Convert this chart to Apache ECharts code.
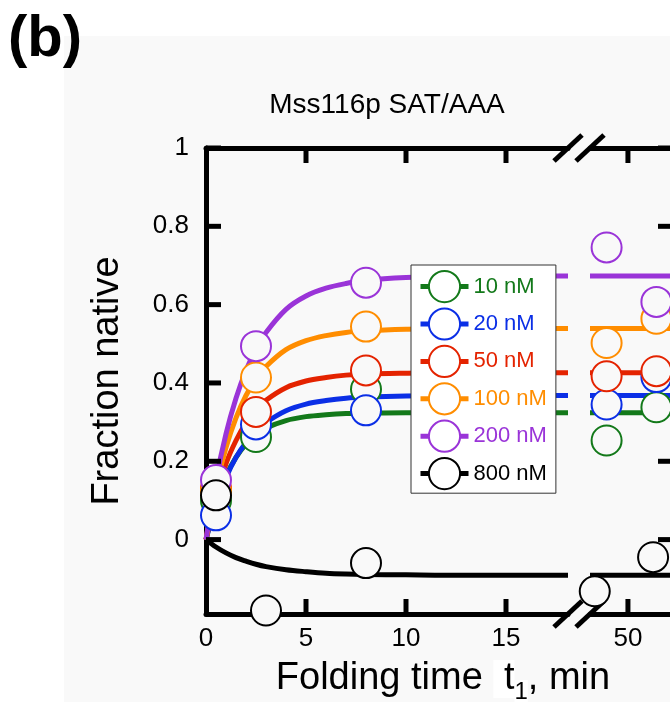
<!DOCTYPE html>
<html>
<head>
<meta charset="utf-8">
<script src="https://cdn.jsdelivr.net/npm/echarts@6/dist/echarts.min.js"></script>
<style>
html, body { margin: 0; padding: 0; background: #fff; }
/* light grey figure panel behind the plot */
#chart {
  width: 670px; height: 702px;
  background: linear-gradient(#f9f9f9, #f9f9f9) 64px 36px / 606px 666px no-repeat, #fff;
}
</style>
</head>
<body>
<div id="chart"></div>
<script>
// Mss116p SAT/AAA folding kinetics: fraction native vs folding time t1

const concentrations = ['10 nM', '20 nM', '50 nM', '100 nM', '200 nM', '800 nM'];
const seriesColors = ['#13791a', '#0b2fe6', '#e42300', '#ff8d00', '#9a34d8', '#000000'];

// measured time points (min); the 800 nM set was sampled at its own times
const timesEarly = [0.5, 2.5, 8];
const timesLate = [45.5, 56];
const times800Early = [0.5, 3, 8];
const times800Late = [43, 55.3];

// measured fraction native
const native10Early = [0.100, 0.262, 0.384];
const native10Late = [0.253, 0.338];
const native20Early = [0.062, 0.294, 0.330];
const native20Late = [0.345, 0.415];
const native50Early = [0.130, 0.326, 0.432];
const native50Late = [0.417, 0.430];
const native100Early = [0.125, 0.414, 0.544];
const native100Late = [0.502, 0.564];
const native200Early = [0.152, 0.494, 0.656];
const native200Late = [0.746, 0.607];
const native800Early = [0.113, -0.181, -0.060];
const native800Late = [-0.132, -0.045];

// fitted kinetic curves, sampled along the early time range
const fitTimes = [0, 0.5, 1, 1.5, 2, 2.5, 3, 4, 5, 6, 7, 8, 10, 12, 14, 18.1];
const fit10 = [0, 0.096, 0.163, 0.210, 0.244, 0.268, 0.285, 0.304, 0.314, 0.319, 0.322, 0.323, 0.324, 0.324, 0.324, 0.324];
const fit20 = [0, 0.090, 0.158, 0.210, 0.248, 0.277, 0.299, 0.329, 0.346, 0.355, 0.361, 0.364, 0.367, 0.368, 0.368, 0.368];
const fit50 = [0, 0.111, 0.194, 0.253, 0.298, 0.331, 0.356, 0.388, 0.405, 0.414, 0.420, 0.423, 0.425, 0.426, 0.426, 0.426];
const fit100 = [0, 0.134, 0.235, 0.311, 0.368, 0.410, 0.442, 0.485, 0.508, 0.521, 0.529, 0.533, 0.537, 0.539, 0.539, 0.539];
const fit200 = [0, 0.152, 0.270, 0.361, 0.432, 0.487, 0.529, 0.588, 0.622, 0.642, 0.654, 0.662, 0.669, 0.672, 0.673, 0.673];
const fit800 = [0, -0.019, -0.034, -0.046, -0.055, -0.063, -0.069, -0.077, -0.082, -0.086, -0.088, -0.089, -0.090, -0.091, -0.091, -0.091];
// plateau of each fit, carried across the late (broken) time range
const fitPlateau = [0.324, 0.368, 0.426, 0.539, 0.673, -0.091];

// axis ranges and tick values
const yMin = -0.19, yMax = 1;
const yTicks = [0, 0.2, 0.4, 0.6, 0.8, 1];
const xEarlyMin = 0, xEarlyMax = 18.1;
const xEarlyTicks = [0, 5, 10, 15];
const xLateMin = 42, xLateMax = 59.5;
const xLateTicks = [50];

const earlyNative = [native10Early, native20Early, native50Early, native100Early, native200Early, native800Early];
const lateNative = [native10Late, native20Late, native50Late, native100Late, native200Late, native800Late];
const fits = [fit10, fit20, fit50, fit100, fit200, fit800];

// layout
const FONT = "'Liberation Sans', Arial, Helvetica, sans-serif";
const g0Left = 206, g0Width = 362, g1Left = 590, g1Width = 83, gTop = 148, gHeight = 466;
const PANEL_BG = '#f9f9f9';
const TICK_LEN = 15;

const axisLineStyle = () => ({ show: true, onZero: false, lineStyle: { color: '#000', width: 5 } });
const labelStyle = (extra) => Object.assign({ show: true, fontSize: 26, color: '#000', fontFamily: FONT }, extra);

const series = [];
// fitted curves (first, so the legend takes its line + circle icon from them)
concentrations.forEach((name, i) => {
  series.push({
    type: 'line', name: name, xAxisIndex: 0, yAxisIndex: 0,
    data: fitTimes.map((t, j) => [t, fits[i][j]]),
    smooth: 0.35,
    symbol: 'emptyCircle', showSymbol: false, silent: true,
    itemStyle: { color: seriesColors[i] },
    lineStyle: { color: seriesColors[i], width: 5 },
    z: 2
  });
});
concentrations.forEach((name, i) => {
  series.push({
    type: 'line', name: name, xAxisIndex: 2, yAxisIndex: 1,
    data: [[xLateMin, fitPlateau[i]], [xLateMax, fitPlateau[i]]],
    symbol: 'none', silent: true,
    itemStyle: { color: seriesColors[i] },
    lineStyle: { color: seriesColors[i], width: 5 },
    z: 2
  });
});
// measured points, drawn above every curve
concentrations.forEach((name, i) => {
  const te = i === 5 ? times800Early : timesEarly;
  const tl = i === 5 ? times800Late : timesLate;
  const pointStyle = { color: PANEL_BG, borderColor: seriesColors[i], borderWidth: 2, opacity: 1 };
  series.push({
    type: 'scatter', name: name, xAxisIndex: 0, yAxisIndex: 0,
    data: te.map((t, j) => [t, earlyNative[i][j]]),
    symbol: 'circle', symbolSize: 30, clip: false, silent: true,
    itemStyle: pointStyle, z: 5
  });
  series.push({
    type: 'scatter', name: name, xAxisIndex: 2, yAxisIndex: 1,
    data: tl.map((t, j) => [t, lateNative[i][j]]),
    symbol: 'circle', symbolSize: 30, clip: false, silent: true,
    itemStyle: pointStyle, z: 5
  });
});

const chart = echarts.init(document.getElementById('chart'), null, { renderer: 'canvas' });
chart.setOption({
  animation: false,
  backgroundColor: 'transparent',
  textStyle: { fontFamily: FONT },
  title: [
    { text: '(b)', left: 3, top: 6, textStyle: { fontSize: 58, fontWeight: 'bold', color: '#000', fontFamily: FONT } },
    { text: 'Mss116p SAT/AAA', left: 382, top: 86, textAlign: 'center', textStyle: { fontSize: 28, fontWeight: 'normal', color: '#000', fontFamily: FONT } },
    {
      text: '{a|Folding time }{t| t}{s|1}{a|, min}', left: 438, top: 649, textAlign: 'center',
      textStyle: {
        fontWeight: 'normal',
        rich: {
          a: { fontSize: 38, lineHeight: 50, fontWeight: 'normal', color: '#000', fontFamily: FONT },
          t: { fontSize: 38, lineHeight: 50, fontWeight: 'normal', color: '#000', fontFamily: FONT, backgroundColor: '#fff' },
          s: { fontSize: 24, lineHeight: 24, fontWeight: 'normal', verticalAlign: 'bottom', color: '#000', fontFamily: FONT, backgroundColor: '#fff' }
        }
      }
    }
  ],
  legend: {
    orient: 'vertical', left: 411, top: 265, z: 8,
    itemWidth: 48, itemHeight: 39, itemGap: 4.2,
    padding: [5, 9, 3, 7],
    backgroundColor: '#fff', borderColor: '#333', borderWidth: 1,
    selectedMode: false,
    lineStyle: { width: 5 },
    textStyle: { fontSize: 22, fontFamily: FONT },
    data: concentrations.map((n, i) => ({ name: n, textStyle: { color: seriesColors[i] } }))
  },
  grid: [
    { left: g0Left, top: gTop, width: g0Width, height: gHeight, containLabel: false, outerBoundsMode: 'none' },
    { left: g1Left, top: gTop, width: g1Width, height: gHeight, containLabel: false, outerBoundsMode: 'none' }
  ],
  xAxis: [
    { type: 'value', gridIndex: 0, position: 'bottom', min: xEarlyMin, max: xEarlyMax,
      axisLine: axisLineStyle(), axisTick: { show: false }, axisLabel: labelStyle({ margin: 12, customValues: xEarlyTicks }), splitLine: { show: false } },
    { type: 'value', gridIndex: 0, position: 'top', min: xEarlyMin, max: xEarlyMax,
      axisLine: axisLineStyle(), axisTick: { show: false }, axisLabel: { show: false }, splitLine: { show: false } },
    { type: 'value', gridIndex: 1, position: 'bottom', min: xLateMin, max: xLateMax,
      axisLine: axisLineStyle(), axisTick: { show: false }, axisLabel: labelStyle({ margin: 12, customValues: xLateTicks }), splitLine: { show: false } },
    { type: 'value', gridIndex: 1, position: 'top', min: xLateMin, max: xLateMax,
      axisLine: axisLineStyle(), axisTick: { show: false }, axisLabel: { show: false }, splitLine: { show: false } }
  ],
  yAxis: [
    { type: 'value', gridIndex: 0, position: 'left', min: yMin, max: yMax,
      name: 'Fraction native', nameLocation: 'middle', nameGap: 79,
      nameTextStyle: { fontSize: 38, color: '#000', fontFamily: FONT },
      axisLine: axisLineStyle(), axisTick: { show: false }, axisLabel: labelStyle({ margin: 17, customValues: yTicks }), splitLine: { show: false } },
    { type: 'value', gridIndex: 1, position: 'right', min: yMin, max: yMax,
      axisLine: axisLineStyle(), axisTick: { show: false }, axisLabel: { show: false }, splitLine: { show: false } }
  ],
  series: series
});

// Inward tick marks and the axis-break slashes, placed through the axes' own scales
const px = (axis, index, v) => chart.convertToPixel({ [axis + 'AxisIndex']: index }, v);
const frameLeft = px('x', 0, xEarlyMin), frameBreakL = px('x', 0, xEarlyMax);
const frameBreakR = px('x', 2, xLateMin), frameRight = px('x', 2, xLateMax);
const frameTop = px('y', 0, yMax), frameBottom = px('y', 0, yMin);
const tickRect = (x, y, w, h) => ({
  type: 'rect', z: 4, silent: true,
  shape: { x: x, y: y, width: w, height: h },
  style: { fill: '#000' }
});
const marks = [];
yTicks.forEach((v) => {
  const y = px('y', 0, v);
  marks.push(tickRect(frameLeft, y - 2.5, TICK_LEN, 5));
  marks.push(tickRect(frameRight - TICK_LEN, y - 2.5, TICK_LEN, 5));
});
xEarlyTicks.filter((v) => v > xEarlyMin).map((v) => px('x', 0, v))
  .concat(xLateTicks.map((v) => px('x', 2, v)))
  .forEach((x) => {
    marks.push(tickRect(x - 2.5, frameBottom - TICK_LEN, 5, TICK_LEN));
    marks.push(tickRect(x - 2.5, frameTop, 5, TICK_LEN));
  });
[frameBreakL, frameBreakR].forEach((cx) => {
  [frameTop, frameBottom].forEach((cy) => {
    marks.push({
      type: 'line', z: 4, silent: true,
      shape: { x1: cx - 14, y1: cy + 13, x2: cx + 14, y2: cy - 13 },
      style: { stroke: '#000', lineWidth: 5 }
    });
  });
});
chart.setOption({ graphic: { elements: marks } });
</script>
</body>
</html>
